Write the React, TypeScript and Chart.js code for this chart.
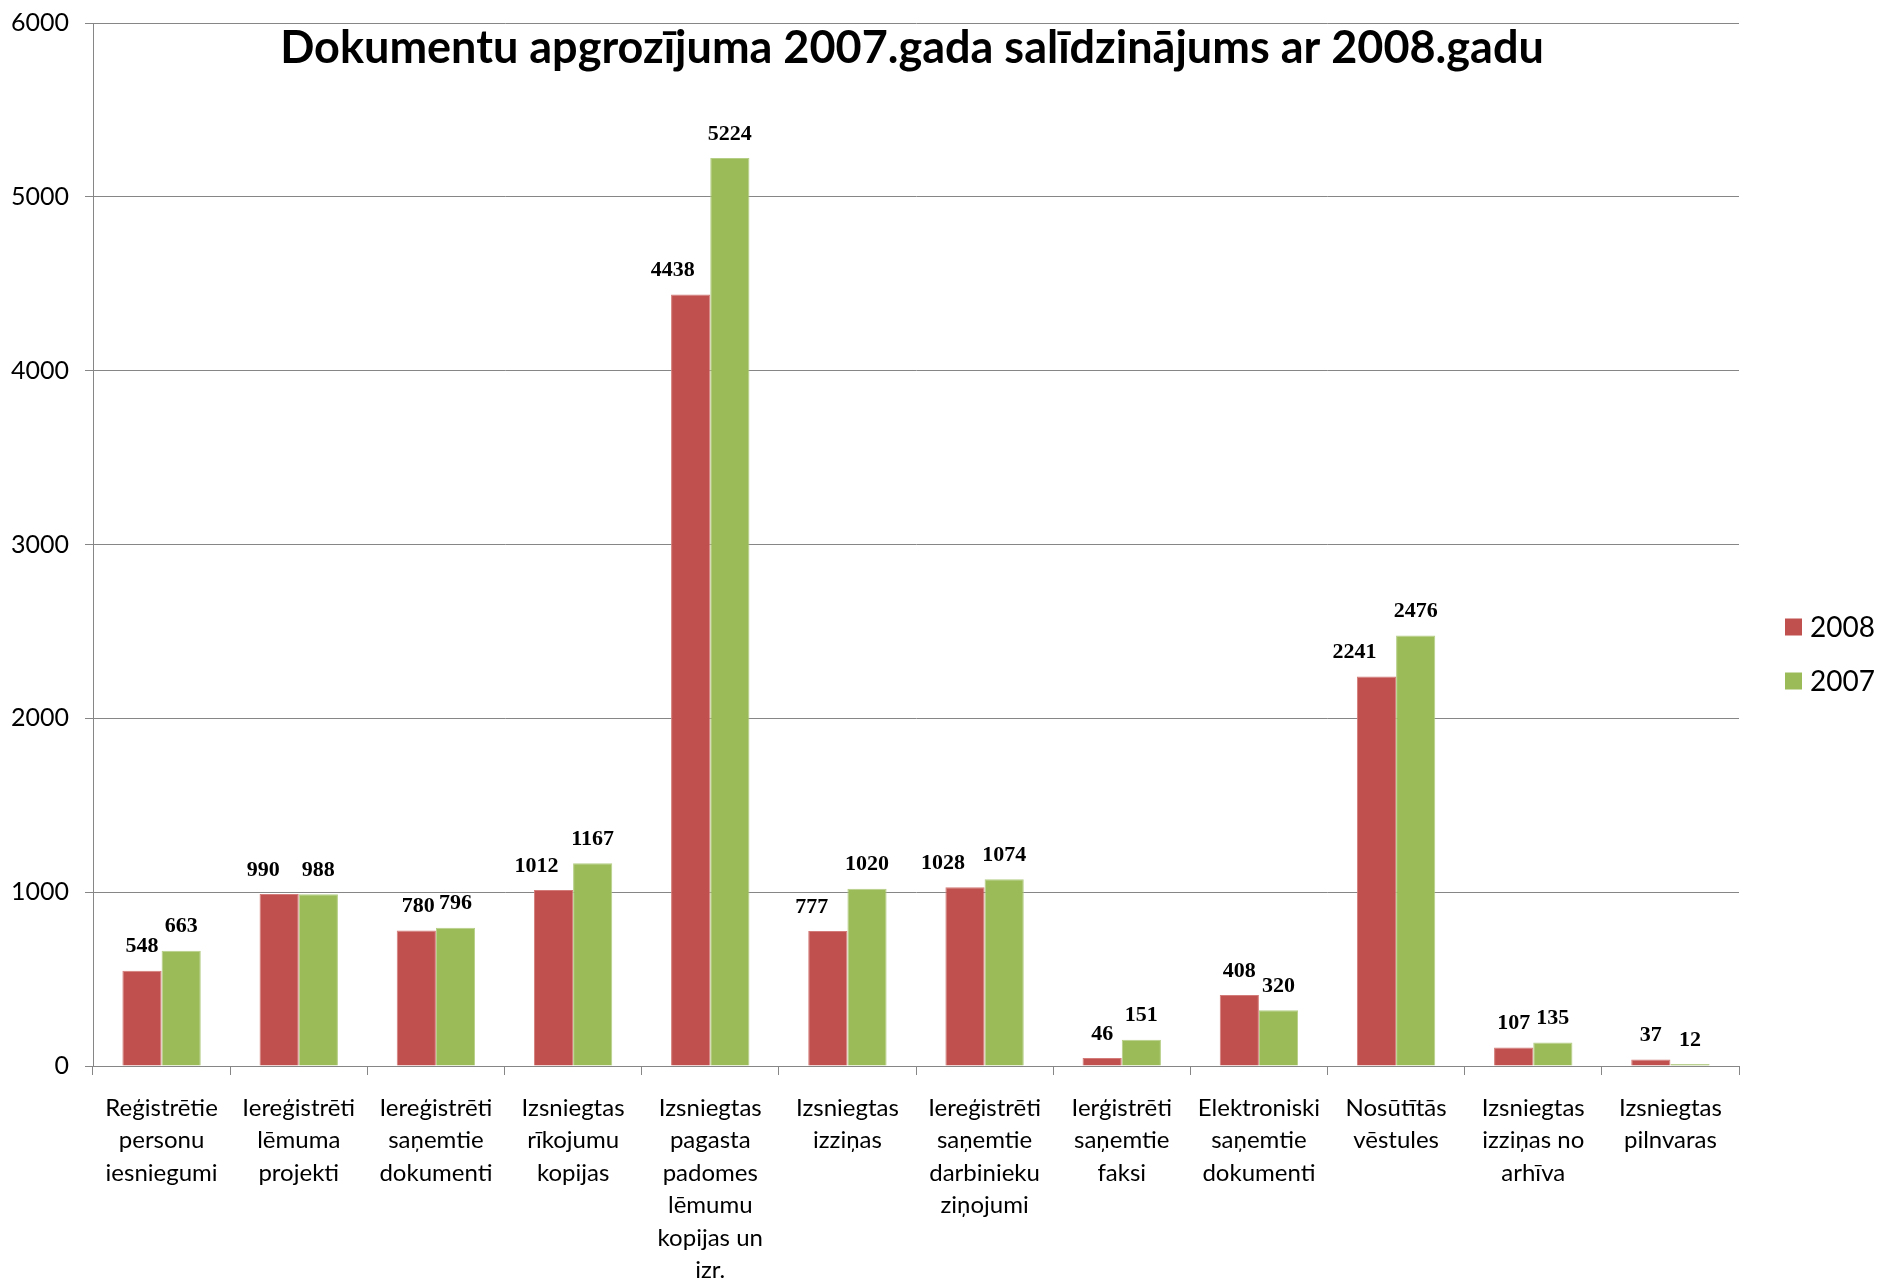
import React, { useEffect, useRef } from "react";
import { Chart, registerables } from "chart.js";

Chart.register(...registerables);

const titleText = "Dokumentu apgrozījuma 2007.gada salīdzinājums ar 2008.gadu";

const categories: string[][] = [
  ["Reģistrētie", "personu", "iesniegumi"],
  ["Iereģistrēti", "lēmuma", "projekti"],
  ["Iereģistrēti", "saņemtie", "dokumenti"],
  ["Izsniegtas", "rīkojumu", "kopijas"],
  ["Izsniegtas", "pagasta", "padomes", "lēmumu", "kopijas un", "izr."],
  ["Izsniegtas", "izziņas"],
  ["Iereģistrēti", "saņemtie", "darbinieku", "ziņojumi"],
  ["Ierģistrēti", "saņemtie", "faksi"],
  ["Elektroniski", "saņemtie", "dokumenti"],
  ["Nosūtītās", "vēstules"],
  ["Izsniegtas", "izziņas no", "arhīva"],
  ["Izsniegtas", "pilnvaras"],
];

const seriesNames = ["2008", "2007"];
const values2008 = [548, 990, 780, 1012, 4438, 777, 1028, 46, 408, 2241, 107, 37];
const values2007 = [663, 988, 796, 1167, 5224, 1020, 1074, 151, 320, 2476, 135, 12];

const yMin = 0;
const yMax = 6000;
const yStep = 1000;

const RED = "#C0504D";
const GREEN = "#9BBB59";
const RED_EDGE = "#D37B78";
const GREEN_EDGE = "#B5CE85";
const AXIS = "#868686";

const valueLabelsPlugin = {
  id: "valueLabels",
  afterDatasetsDraw(chart: any, _args: any, opts: any) {
    const ctx = chart.ctx;
    ctx.save();
    ctx.font = "bold 22px 'Liberation Serif'";
    ctx.fillStyle = "#000";
    ctx.textAlign = "center";
    ctx.textBaseline = "middle";
    chart.data.datasets.forEach((ds: any, di: number) => {
      const meta = chart.getDatasetMeta(di);
      const nudges = (opts.nudges && opts.nudges[di]) || [];
      meta.data.forEach((bar: any, i: number) => {
        const dx = nudges[i] || 0;
        ctx.fillText(String(ds.data[i]), bar.x + dx, bar.y - 24);
      });
    });
    ctx.restore();
  },
};

const titlePlugin = {
  id: "overlayTitle",
  afterDraw(chart: any, _args: any, opts: any) {
    const ctx = chart.ctx;
    const a = chart.chartArea;
    ctx.save();
    ctx.font = "bold 45px Lato";
    ctx.fillStyle = "#000";
    ctx.textAlign = "center";
    ctx.textBaseline = "middle";
    ctx.fillText(opts.text, (a.left + a.right) / 2 - 4, a.top + 25);
    ctx.restore();
  },
};

const sideLegendPlugin = {
  id: "sideLegend",
  afterDraw(chart: any) {
    const ctx = chart.ctx;
    const a = chart.chartArea;
    ctx.save();
    ctx.font = "28px Lato";
    ctx.textAlign = "left";
    ctx.textBaseline = "middle";
    const x0 = a.right + 46;
    const yc = chart.height / 2 + 13;
    chart.data.datasets.forEach((ds: any, i: number) => {
      const y = yc - 27 + i * 54;
      ctx.fillStyle = ds.backgroundColor;
      ctx.fillRect(x0, y - 8.5, 17, 17);
      ctx.fillStyle = "#000";
      ctx.fillText(ds.label, x0 + 25, y + 1);
    });
    ctx.restore();
  },
};

export default function App() {
  const ref = useRef<HTMLCanvasElement | null>(null);

  useEffect(() => {
    if (!ref.current) return;
    Chart.defaults.font.family = "Lato";
    const chart = new Chart(ref.current, {
      type: "bar",
      data: {
        labels: categories,
        datasets: [
          {
            label: seriesNames[0],
            data: values2008,
            backgroundColor: RED,
            borderColor: RED_EDGE,
            borderWidth: 1,
            categoryPercentage: 0.5714,
            barPercentage: 1,
          },
          {
            label: seriesNames[1],
            data: values2007,
            backgroundColor: GREEN,
            borderColor: GREEN_EDGE,
            borderWidth: 1,
            categoryPercentage: 0.5714,
            barPercentage: 1,
          },
        ],
      },
      options: {
        responsive: false,
        animation: false,
        devicePixelRatio: 1,
        layout: { padding: { top: 23, left: 0, right: 139, bottom: 0 } },
        plugins: {
          legend: { display: false },
          tooltip: { enabled: false },
          title: { display: false },
          overlayTitle: { text: titleText },
          valueLabels: {
            nudges: [
              [0, -16, 2, -17, -18, -16, -22, 0, 0, -22, 0, 0],
              [0, 0, 0, 0, 0, 0, 0, 0, 0, 0, 0, 0],
            ],
          },
        } as any,
        scales: {
          x: {
            afterFit(scale: any) {
              scale.height = 216;
            },
            grid: {
              offset: true,
              drawOnChartArea: false,
              drawTicks: true,
              tickLength: 9,
              color: AXIS,
            },
            border: { color: AXIS },
            ticks: {
              autoSkip: false,
              maxRotation: 0,
              minRotation: 0,
              padding: 17,
              color: "#000",
              font: { family: "Lato", size: 24, lineHeight: 1.354 },
            },
          },
          y: {
            min: yMin,
            max: yMax,
            afterFit(scale: any) {
              scale.width = 93;
              scale.paddingTop = 0;
              scale.paddingBottom = 0;
            },
            grid: { color: AXIS, tickLength: 8, drawTicks: true },
            border: { color: AXIS },
            ticks: {
              stepSize: yStep,
              padding: 16,
              color: "#000",
              font: { family: "Lato", size: 25 },
              callback: (v: any) => String(v),
            },
          },
        },
      },
      plugins: [valueLabelsPlugin, titlePlugin, sideLegendPlugin],
    });
    return () => chart.destroy();
  }, []);

  return (
    <div style={{ position: "fixed", left: 0, top: 0, width: 1878, height: 1282, background: "#fff" }}>
      <canvas ref={ref} width={1878} height={1282} style={{ display: "block" }} />
    </div>
  );
}
